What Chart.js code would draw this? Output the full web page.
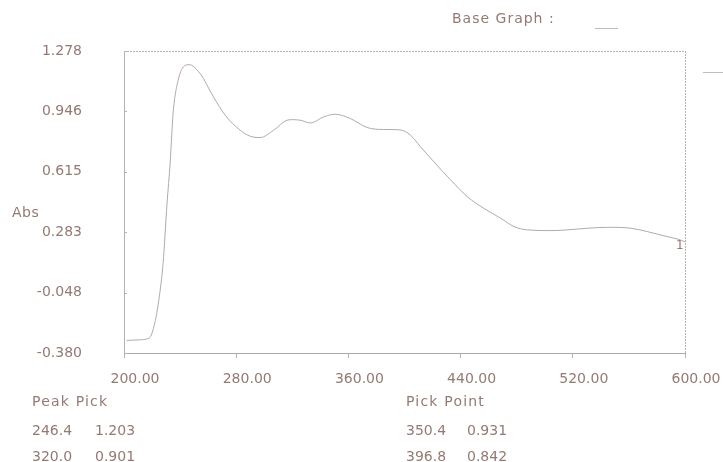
<!DOCTYPE html>
<html>
<head>
<meta charset="utf-8">
<script src="https://cdn.jsdelivr.net/npm/chart.js@4/dist/chart.umd.min.js"></script>
<style>
  html, body { margin: 0; padding: 0; background: #ffffff; }
  #wrap { width: 723px; height: 462px; position: relative; }
</style>
</head>
<body>
<div id="wrap"><canvas id="c" width="723" height="462"></canvas></div>
<script>
// ---- data ----
const wavelengths = [202, 210, 218, 222, 225, 227.9, 230.7, 232.9, 235, 238.6, 243.6, 246.4,
  254.3, 263.8, 272.1, 282.9, 291.2, 297.1, 306.7, 316.2, 320, 325.7, 332.9, 342.4, 350.4,
  361.4, 373.3, 385.2, 396.8, 404.3, 411.4, 420.9, 432.9, 444.8, 456.6, 468.6, 478.1, 487.6,
  504.3, 516.2, 530.5, 544.8, 561.4, 573.4, 585.2, 594.8, 600];
const absorbance = [-0.311, -0.308, -0.298, -0.214, -0.08, 0.115, 0.443, 0.663, 0.935, 1.117, 1.199, 1.203,
  1.154, 1.026, 0.926, 0.843, 0.807, 0.803, 0.843, 0.898, 0.901, 0.898, 0.883, 0.916, 0.931,
  0.907, 0.858, 0.847, 0.845, 0.816, 0.752, 0.670, 0.570, 0.478, 0.414, 0.360, 0.314, 0.296,
  0.292, 0.296, 0.305, 0.310, 0.305, 0.286, 0.263, 0.245, 0.231];
const xTickValues = [200, 280, 360, 440, 520, 600];
const xTickLabels = ["200.00", "280.00", "360.00", "440.00", "520.00", "600.00"];
const yTickValues = [-0.380, -0.0484, 0.2832, 0.6148, 0.9464, 1.278];
const yTickLabels = ["-0.380", "-0.048", "0.283", "0.615", "0.946", "1.278"];
const yAxisTitle = "Abs";
const headerText = "Base Graph :";
const curveLabel = "1";
const peakPickTitle = "Peak Pick";
const peakPickRows = [["246.4", "1.203"], ["320.0", "0.901"]];
const pickPointTitle = "Pick Point";
const pickPointRows = [["350.4", "0.931"], ["396.8", "0.842"]];

// ---- styles ----
const TEXT = '#947a73';
const LINE = '#b4a8a8';
const FRAME = '#bab2b2';
const FONT = '"DejaVu Sans", sans-serif';

const points = wavelengths.map((w, i) => ({ x: w, y: absorbance[i] }));

function spaced(ctx, text, x, y, sp) {
  ctx.letterSpacing = sp + 'px';
  ctx.fillText(text, x, y);
  ctx.letterSpacing = '0px';
}

const extras = {
  id: 'extras',
  afterDraw(chart) {
    const ctx = chart.ctx;
    const a = chart.chartArea;
    const ys = chart.scales.y;
    ctx.save();
    // dotted top and right frame
    ctx.strokeStyle = FRAME;
    ctx.lineWidth = 1;
    ctx.setLineDash([2, 1]);
    ctx.beginPath();
    ctx.moveTo(a.left, a.top + 0.5); ctx.lineTo(a.right, a.top + 0.5);
    ctx.moveTo(a.right + 0.5, a.top); ctx.lineTo(a.right + 0.5, a.bottom);
    ctx.stroke();
    ctx.setLineDash([]);
    // small inward tick marks on the left axis
    ctx.beginPath();
    yTickValues.forEach(v => {
      const py = Math.round(ys.getPixelForValue(v)) + 0.5;
      ctx.moveTo(a.left, py); ctx.lineTo(a.left + 3, py);
    });
    ctx.stroke();
    // texts
    ctx.fillStyle = TEXT;
    ctx.font = '14px ' + FONT;
    ctx.textBaseline = 'middle';
    ctx.textAlign = 'left';
    spaced(ctx, yAxisTitle, 12, 213, 0.5);
    spaced(ctx, headerText, 452, 19, 1);
    spaced(ctx, peakPickTitle, 32, 402, 1.2);
    spaced(ctx, pickPointTitle, 406, 402, 1.2);
    peakPickRows.forEach((r, i) => {
      ctx.fillText(r[0], 32, 431 + i * 26);
      ctx.fillText(r[1], 95, 431 + i * 26);
    });
    pickPointRows.forEach((r, i) => {
      ctx.fillText(r[0], 406, 431 + i * 26);
      ctx.fillText(r[1], 467, 431 + i * 26);
    });
    // curve label at its end
    ctx.font = '12px ' + FONT;
    ctx.fillText(curveLabel, 676, 246);
    // small legend dashes
    ctx.strokeStyle = '#c4baba';
    ctx.beginPath();
    ctx.moveTo(595, 28.5); ctx.lineTo(618, 28.5);
    ctx.moveTo(703, 72.5); ctx.lineTo(723, 72.5);
    ctx.stroke();
    ctx.restore();
  }
};

new Chart(document.getElementById('c'), {
  type: 'line',
  data: {
    datasets: [{
      data: points,
      borderColor: LINE,
      borderWidth: 1,
      pointRadius: 0,
      fill: false,
      cubicInterpolationMode: 'monotone'
    }]
  },
  options: {
    responsive: false,
    devicePixelRatio: 1,
    animation: false,
    layout: { padding: { top: 51, right: 38, bottom: 0, left: 0 } },
    plugins: { legend: { display: false }, tooltip: { enabled: false } },
    scales: {
      x: {
        type: 'linear',
        min: 200, max: 600,
        afterBuildTicks: s => { s.ticks = xTickValues.map(v => ({ value: v })); },
        afterFit: s => { s.height = 109; },
        ticks: {
          color: TEXT,
          font: { family: FONT, size: 14 },
          padding: 13,
          labelOffset: 11,
          maxRotation: 0,
          autoSkip: false,
          callback: (v, i) => xTickLabels[i]
        },
        grid: { drawOnChartArea: false, drawTicks: true, tickLength: 5, color: FRAME },
        border: { display: true, color: '#b0a8a8', dash: [2, 1] }
      },
      y: {
        type: 'linear',
        min: -0.380, max: 1.278,
        afterBuildTicks: s => { s.ticks = yTickValues.map(v => ({ value: v })); },
        afterFit: s => { s.width = 124; },
        ticks: {
          color: TEXT,
          font: { family: FONT, size: 14 },
          padding: 42,
          autoSkip: false,
          callback: (v, i) => yTickLabels[i]
        },
        grid: { display: true, drawOnChartArea: false, drawTicks: false, color: FRAME },
        border: { display: true, color: FRAME, dash: [1, 1] }
      }
    }
  },
  plugins: [extras]
});
</script>
</body>
</html>
